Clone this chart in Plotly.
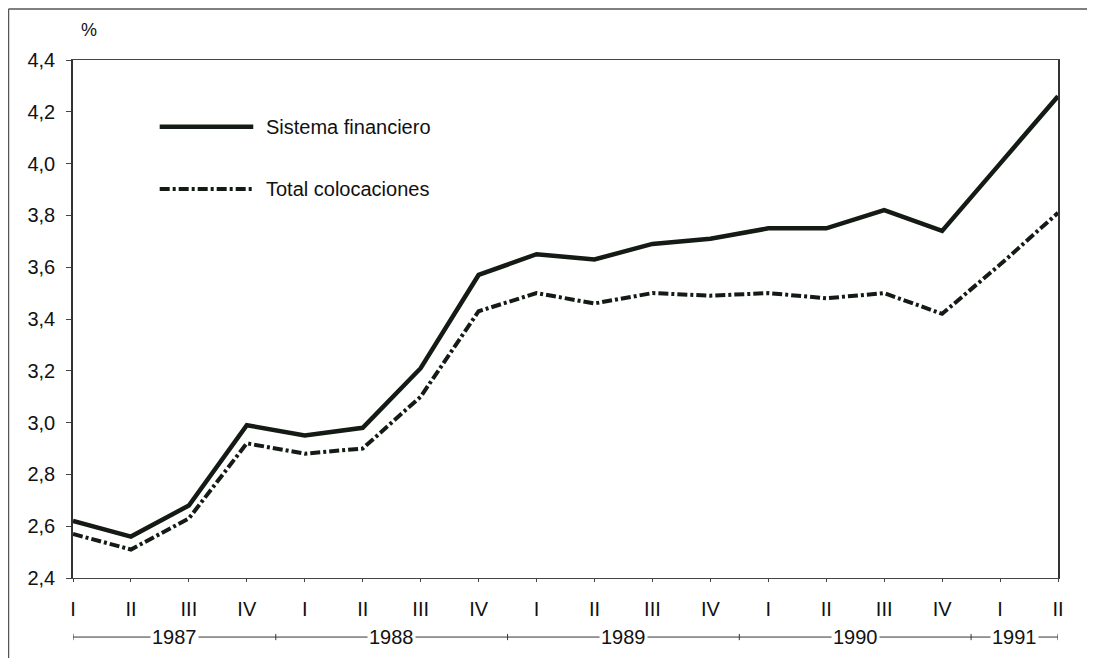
import plotly.graph_objects as go

# ----------------------------------------------------------
# Data
# ----------------------------------------------------------

years = ["1987", "1988", "1989", "1990", "1991"]
quarters_per_year = [4, 4, 4, 4, 2]
roman = ["I", "II", "III", "IV"]

sistema_financiero = [
    2.62, 2.56, 2.68, 2.99, 2.95, 2.98, 3.21, 3.57, 3.65,
    3.63, 3.69, 3.71, 3.75, 3.75, 3.82, 3.74, 4.00, 4.26
]

total_colocaciones = [
    2.57, 2.51, 2.63, 2.92, 2.88, 2.90, 3.10, 3.43, 3.50,
    3.46, 3.50, 3.49, 3.50, 3.48, 3.50, 3.42, 3.61, 3.81
]

quarter_labels = [roman[q] for n in quarters_per_year for q in range(n)]
x = list(range(len(quarter_labels)))

INK = "#141a14"
FONT = "Liberation Sans, Arial, sans-serif"
DASHDOT = "10px,3px,3px,3px"
TXT = 20

# ----------------------------------------------------------
# Figure
# ----------------------------------------------------------

fig = go.Figure()

fig.add_trace(
    go.Scatter(
        x=x,
        y=sistema_financiero,
        mode="lines",
        name="Sistema financiero",
        line=dict(color=INK, width=4.5),
        showlegend=False
    )
)

fig.add_trace(
    go.Scatter(
        x=x,
        y=total_colocaciones,
        mode="lines",
        name="Total colocaciones",
        line=dict(color=INK, width=4, dash=DASHDOT),
        showlegend=False
    )
)

# legend drawn by hand so the key lines are long, as in the original
legend_items = [
    ("Sistema financiero", "solid", 4.5, 0.871),
    ("Total colocaciones", DASHDOT, 4, 0.751),
]
for label, dash, width, ypos in legend_items:
    fig.add_shape(
        type="line", xref="paper", yref="paper",
        x0=0.088, x1=0.183, y0=ypos, y1=ypos,
        line=dict(color=INK, width=width, dash=dash)
    )
    fig.add_annotation(
        text=label, xref="paper", yref="paper",
        x=0.194, y=ypos, xanchor="left", yanchor="middle",
        showarrow=False, font=dict(size=TXT, color="#111")
    )

# year row below the quarter labels
year_y = -0.114
starts = [0]
ends = []
pos = 0
for n in quarters_per_year:
    pos += n
    ends.append(pos - 0.5)
    starts.append(pos - 0.5)
ends[-1] = x[-1]
starts = starts[:len(years)]

fig.add_shape(
    type="line", xref="x", yref="paper",
    x0=x[0], x1=x[-1], y0=year_y, y1=year_y,
    line=dict(color="#333", width=1)
)
for sep in [x[0]] + ends:
    fig.add_shape(
        type="line", xref="x", yref="paper",
        x0=sep, x1=sep, y0=year_y - 0.006, y1=year_y + 0.006,
        line=dict(color="#333", width=1)
    )
for yr, s, e in zip(years, starts, ends):
    fig.add_annotation(
        text=yr, xref="x", yref="paper",
        x=(s + e) / 2, y=year_y, yanchor="middle",
        showarrow=False, bgcolor="white", borderpad=1,
        font=dict(size=TXT, color="#111")
    )

# percent label
fig.add_annotation(
    text="%", xref="paper", yref="paper",
    x=0.016, y=1.058, xanchor="center", yanchor="middle",
    showarrow=False, font=dict(size=18, color="#111")
)

# outer frame (left and top edges of the scanned box)
fig.add_shape(
    type="line", xref="paper", yref="paper",
    x0=-0.0655, x1=-0.0655, y0=-0.16, y1=1.0985,
    line=dict(color="#555", width=1.5)
)
fig.add_shape(
    type="line", xref="paper", yref="paper",
    x0=-0.0655, x1=1.03, y0=1.0985, y1=1.0985,
    line=dict(color="#555", width=1.5)
)

fig.update_xaxes(
    range=[x[0], x[-1]],
    tickmode="array",
    tickvals=x,
    ticktext=quarter_labels,
    ticks="outside",
    ticklen=3,
    tickcolor="#444",
    ticklabelstandoff=10,
    showline=True,
    linecolor="#444",
    linewidth=1,
    mirror=True,
    showgrid=False,
    zeroline=False,
    tickfont=dict(size=TXT, color="#111")
)

fig.update_yaxes(
    range=[2.4, 4.4],
    tick0=2.4,
    dtick=0.2,
    tickformat=".1f",
    ticks="outside",
    ticklen=5,
    tickcolor="#444",
    ticklabelstandoff=7,
    showline=True,
    linecolor="#333",
    linewidth=1.5,
    mirror=True,
    showgrid=False,
    zeroline=False,
    tickfont=dict(size=TXT, color="#111")
)

fig.update_layout(
    width=1079,
    height=650,
    margin=dict(l=65, r=29, t=52, b=80),
    paper_bgcolor="white",
    plot_bgcolor="white",
    separators=",.",
    font=dict(family=FONT, color="#111"),
    showlegend=False
)

fig.write_html("out.html")
